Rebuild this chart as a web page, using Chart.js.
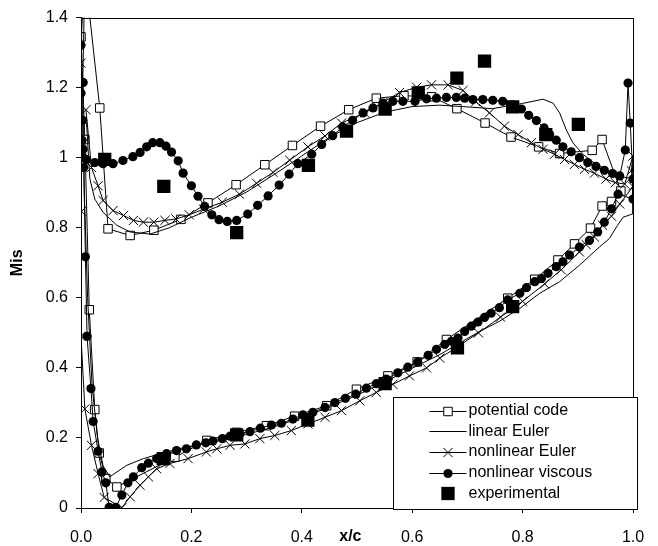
<!DOCTYPE html>
<html><head><meta charset="utf-8">
<script src="https://cdn.jsdelivr.net/npm/chart.js@4/dist/chart.umd.min.js"></script>
<style>html,body{margin:0;padding:0;background:#fff}#wrap{position:relative;width:658px;height:546px}</style>
</head><body><div id="wrap"><canvas id="c" width="658" height="546"></canvas></div>
<script>
// ---------- data ----------
const xTickLabels = ['0.0','0.2','0.4','0.6','0.8','1.0'];
const yTickLabels = ['0','0.2','0.4','0.6','0.8','1','1.2','1.4'];
const seriesNames = ['potential code','linear Euler','nonlinear Euler','nonlinear viscous','experimental'];

const potentialX = [0.015,0.034,0.049,0.089,0.132,0.181,0.230,0.281,0.333,0.383,0.434,0.485,0.535,0.585,0.635,0.681,0.732,0.779,0.829,0.867,0.926,0.944,0.978,0.961,0.944,0.923,0.894,0.864,0.822,0.773,0.662,0.609,0.556,0.499,0.445,0.387,0.336,0.282,0.228,0.170,0.065,0.045,0.033,0.025,0.015,0.007,0.000,0.006];
const potentialY = [1.416,1.142,0.797,0.778,0.793,0.824,0.871,0.923,0.980,1.035,1.090,1.137,1.170,1.177,1.174,1.140,1.099,1.059,1.031,1.012,1.021,1.052,0.905,0.875,0.862,0.799,0.754,0.708,0.653,0.599,0.481,0.417,0.377,0.339,0.292,0.262,0.235,0.216,0.193,0.145,0.060,0.084,0.157,0.281,0.566,1.052,1.345,1.500];

const linearX = [0.010,0.016,0.025,0.040,0.065,0.089,0.125,0.160,0.200,0.250,0.300,0.350,0.400,0.450,0.500,0.550,0.600,0.650,0.700,0.745,0.800,0.837,0.855,0.867,0.879,0.891,0.909,0.933,0.963,0.985,1.000,1.000,0.982,0.972,0.957,0.939,0.903,0.867,0.831,0.795,0.758,0.722,0.686,0.650,0.614,0.550,0.500,0.450,0.400,0.350,0.300,0.250,0.191,0.155,0.113,0.083,0.052,0.040,0.030,0.020,0.012,0.006,0.003,0.008];
const linearY = [1.100,0.940,0.882,0.844,0.807,0.788,0.782,0.800,0.830,0.862,0.902,0.952,1.005,1.058,1.100,1.130,1.146,1.150,1.145,1.140,1.155,1.167,1.156,1.128,1.080,1.043,1.010,0.981,0.958,0.944,0.940,0.840,0.830,0.807,0.769,0.745,0.693,0.646,0.613,0.570,0.533,0.504,0.471,0.438,0.410,0.360,0.322,0.288,0.258,0.232,0.210,0.192,0.174,0.160,0.141,0.122,0.089,0.120,0.200,0.350,0.600,0.900,1.200,1.600];

const eulerX = [0.009,0.019,0.031,0.040,0.058,0.077,0.095,0.113,0.132,0.152,0.172,0.196,0.222,0.256,0.287,0.318,0.348,0.378,0.411,0.442,0.472,0.514,0.547,0.577,0.608,0.635,0.665,0.692,0.715,0.740,0.767,0.792,0.816,0.837,0.858,0.876,0.894,0.912,0.930,0.951,0.968,0.985,1.000,0.997,1.000,0.976,0.961,0.945,0.930,0.915,0.903,0.870,0.840,0.800,0.760,0.720,0.680,0.650,0.626,0.595,0.565,0.535,0.505,0.472,0.442,0.411,0.381,0.351,0.324,0.297,0.270,0.246,0.227,0.194,0.161,0.137,0.122,0.107,0.089,0.074,0.042,0.031,0.019,0.007,0.000,0.001,0.000,0.003];
const eulerY = [1.137,0.972,0.920,0.878,0.849,0.835,0.821,0.816,0.816,0.821,0.825,0.837,0.853,0.873,0.896,0.927,0.958,0.993,1.031,1.062,1.099,1.128,1.158,1.186,1.201,1.208,1.208,1.192,1.160,1.128,1.090,1.066,1.043,1.024,1.010,0.995,0.981,0.967,0.956,0.939,0.929,0.925,1.005,0.963,0.918,0.868,0.833,0.807,0.774,0.752,0.731,0.680,0.640,0.590,0.545,0.500,0.458,0.428,0.400,0.377,0.353,0.330,0.306,0.278,0.259,0.240,0.221,0.207,0.198,0.183,0.179,0.169,0.160,0.141,0.127,0.112,0.089,0.065,0.032,0.001,0.030,0.098,0.179,0.283,0.490,0.847,1.270,1.550];

const viscousX = [0.004,0.003,0.004,0.004,0.010,0.025,0.040,0.058,0.076,0.094,0.107,0.119,0.130,0.143,0.154,0.164,0.176,0.185,0.200,0.212,0.224,0.237,0.250,0.265,0.282,0.302,0.320,0.339,0.359,0.377,0.393,0.418,0.436,0.456,0.474,0.492,0.511,0.529,0.547,0.565,0.583,0.605,0.626,0.644,0.662,0.680,0.695,0.710,0.728,0.746,0.764,0.782,0.798,0.811,0.825,0.839,0.849,0.861,0.873,0.888,0.903,0.918,0.933,0.948,0.963,0.976,0.986,0.991,0.995,1.000,1.000,0.973,0.961,0.948,0.936,0.921,0.903,0.885,0.873,0.861,0.846,0.834,0.822,0.807,0.795,0.773,0.758,0.743,0.731,0.719,0.707,0.695,0.683,0.671,0.659,0.644,0.629,0.610,0.592,0.574,0.553,0.535,0.517,0.498,0.479,0.460,0.442,0.420,0.402,0.384,0.363,0.345,0.325,0.306,0.288,0.270,0.256,0.239,0.226,0.209,0.191,0.173,0.155,0.137,0.122,0.110,0.095,0.085,0.074,0.063,0.051,0.045,0.038,0.031,0.022,0.018,0.011,0.008,0.005,0.002,0.000,0.000,0.003];
const viscousY = [1.215,1.107,1.024,1.000,0.995,0.986,0.983,0.983,0.992,1.003,1.015,1.031,1.043,1.043,1.033,1.016,0.991,0.956,0.920,0.890,0.861,0.837,0.823,0.818,0.821,0.839,0.864,0.891,0.922,0.953,0.983,1.010,1.038,1.063,1.088,1.107,1.128,1.142,1.156,1.161,1.161,1.161,1.168,1.170,1.172,1.172,1.170,1.166,1.166,1.164,1.161,1.151,1.139,1.121,1.106,1.085,1.066,1.050,1.031,1.017,1.000,0.986,0.975,0.964,0.955,0.948,1.022,1.213,1.099,0.939,0.882,0.896,0.854,0.816,0.788,0.764,0.745,0.722,0.703,0.689,0.670,0.655,0.646,0.629,0.613,0.594,0.572,0.556,0.544,0.531,0.519,0.504,0.485,0.476,0.467,0.453,0.436,0.417,0.402,0.386,0.368,0.355,0.342,0.325,0.313,0.301,0.287,0.273,0.266,0.254,0.242,0.237,0.228,0.218,0.212,0.205,0.198,0.191,0.186,0.180,0.169,0.164,0.155,0.141,0.128,0.115,0.089,0.072,0.037,0.002,0.002,0.072,0.103,0.162,0.247,0.341,0.490,0.717,0.972,1.050,1.184,1.321,1.600];

const experimentalX = [0.043,0.150,0.282,0.412,0.481,0.551,0.611,0.681,0.731,0.782,0.842,0.901,0.149,0.282,0.411,0.551,0.682,0.782];
const experimentalY = [0.995,0.918,0.786,0.978,1.076,1.139,1.185,1.227,1.276,1.145,1.066,1.095,0.141,0.209,0.251,0.355,0.457,0.575];

// ---------- chart ----------
const FONT = "'Liberation Sans', Arial, Helvetica, sans-serif";
const pts = (xs, ys) => xs.map((x, i) => ({x: x, y: ys[i]}));

const datasets = [
  {label: seriesNames[0], data: pts(potentialX, potentialY), showLine: true, borderColor: '#000', borderWidth: 1,
   pointStyle: 'rect', pointRadius: 6, pointBackgroundColor: '#fff', pointBorderColor: '#000', pointBorderWidth: 1, order: 4},
  {label: seriesNames[1], data: pts(linearX, linearY), showLine: true, borderColor: '#000', borderWidth: 1,
   pointRadius: 0, order: 3},
  {label: seriesNames[2], data: pts(eulerX, eulerY), showLine: true, borderColor: '#000', borderWidth: 1,
   pointStyle: 'crossRot', pointRadius: 6.5, pointBackgroundColor: '#000', pointBorderColor: '#000', pointBorderWidth: 1, order: 2},
  {label: seriesNames[3], data: pts(viscousX, viscousY), showLine: true, borderColor: '#000', borderWidth: 1,
   pointStyle: 'circle', pointRadius: 4.6, pointBackgroundColor: '#000', pointBorderColor: '#000', pointBorderWidth: 0, order: 1},
  {label: seriesNames[4], data: pts(experimentalX, experimentalY), showLine: false,
   pointStyle: 'rect', pointRadius: 9.4, pointBackgroundColor: '#000', pointBorderColor: '#000', pointBorderWidth: 0, order: 0}
];

const framePlugin = {
  id: 'frame',
  beforeDatasetsDraw(chart) {
    const {ctx, chartArea: a} = chart;
    ctx.save();
    ctx.strokeStyle = '#000'; ctx.lineWidth = 1;
    ctx.strokeRect(Math.round(a.left) + 0.5, Math.round(a.top) + 0.5, Math.round(a.right - a.left), Math.round(a.bottom - a.top));
    ctx.restore();
  },
  afterDraw(chart) {
    const {ctx, chartArea: a} = chart;
    ctx.save();
    // x axis title, drawn on the tick label row
    ctx.fillStyle = '#000';
    ctx.font = 'bold 16px ' + FONT;
    ctx.textAlign = 'center'; ctx.textBaseline = 'middle';
    ctx.fillText('x/c', a.left + 0.488 * (a.right - a.left), a.bottom + 29);
    // legend box
    const L = Math.round(a.right) - 240 + 0.5, T = Math.round(a.bottom) - 111 + 0.5;
    const W = 244, H = 112;
    ctx.fillStyle = '#fff';
    ctx.fillRect(L, T, W, H);
    ctx.strokeStyle = '#000'; ctx.lineWidth = 1;
    ctx.strokeRect(L, T, W, H);
    ctx.font = '16px ' + FONT;
    ctx.textAlign = 'left';
    const lx1 = L + 36, lx2 = L + 73, mx = (lx1 + lx2) / 2;
    chart.data.datasets.forEach((ds, i) => {
      const y = T + 13 + i * 20.7;
      ctx.strokeStyle = '#000'; ctx.lineWidth = 1;
      if (ds.showLine) {
        ctx.beginPath(); ctx.moveTo(lx1, Math.round(y) + 0.5); ctx.lineTo(lx2, Math.round(y) + 0.5); ctx.stroke();
      }
      if (ds.pointRadius > 0) {
        ctx.fillStyle = ds.pointBackgroundColor; ctx.strokeStyle = ds.pointBorderColor;
        ctx.lineWidth = ds.pointBorderWidth || 0;
        Chart.helpers.drawPoint(ctx, {pointStyle: ds.pointStyle, rotation: 0, radius: ds.pointRadius, borderWidth: ds.pointBorderWidth || 0}, mx, Math.round(y) + 0.5);
      }
      ctx.fillStyle = '#000';
      ctx.fillText(ds.label, lx2 + 2, y);
    });
    ctx.restore();
  }
};

new Chart(document.getElementById('c'), {
  type: 'scatter',
  data: {datasets: datasets},
  options: {
    responsive: false, animation: false, devicePixelRatio: 1,
    layout: {padding: {left: 0, right: 25, top: 14, bottom: 0}},
    plugins: {legend: {display: false}, tooltip: {enabled: false}},
    elements: {line: {tension: 0, fill: false}},
    scales: {
      x: {
        type: 'linear', min: 0, max: 1,
        afterFit: s => { s.height = 38; s.paddingLeft = 0; s.paddingRight = 0; },
        border: {display: false},
        grid: {display: true, drawOnChartArea: false, drawTicks: true, tickLength: 5, color: '#000'},
        ticks: {stepSize: 0.2, padding: 15, color: '#000', font: {family: FONT, size: 16},
                callback: (v, i) => xTickLabels[i]}
      },
      y: {
        type: 'linear', min: 0, max: 1.4,
        afterFit: s => { s.width = 81; },
        border: {display: false},
        grid: {display: true, drawOnChartArea: false, drawTicks: true, tickLength: 5, color: '#000'},
        ticks: {stepSize: 0.2, padding: 8, color: '#000', font: {family: FONT, size: 16},
                callback: (v, i) => yTickLabels[i]},
        title: {display: true, text: 'Mis', color: '#000', font: {family: FONT, size: 16, weight: 'bold'}, padding: {top: 8, bottom: 0}}
      }
    }
  },
  plugins: [framePlugin]
});
</script>
</body></html>
